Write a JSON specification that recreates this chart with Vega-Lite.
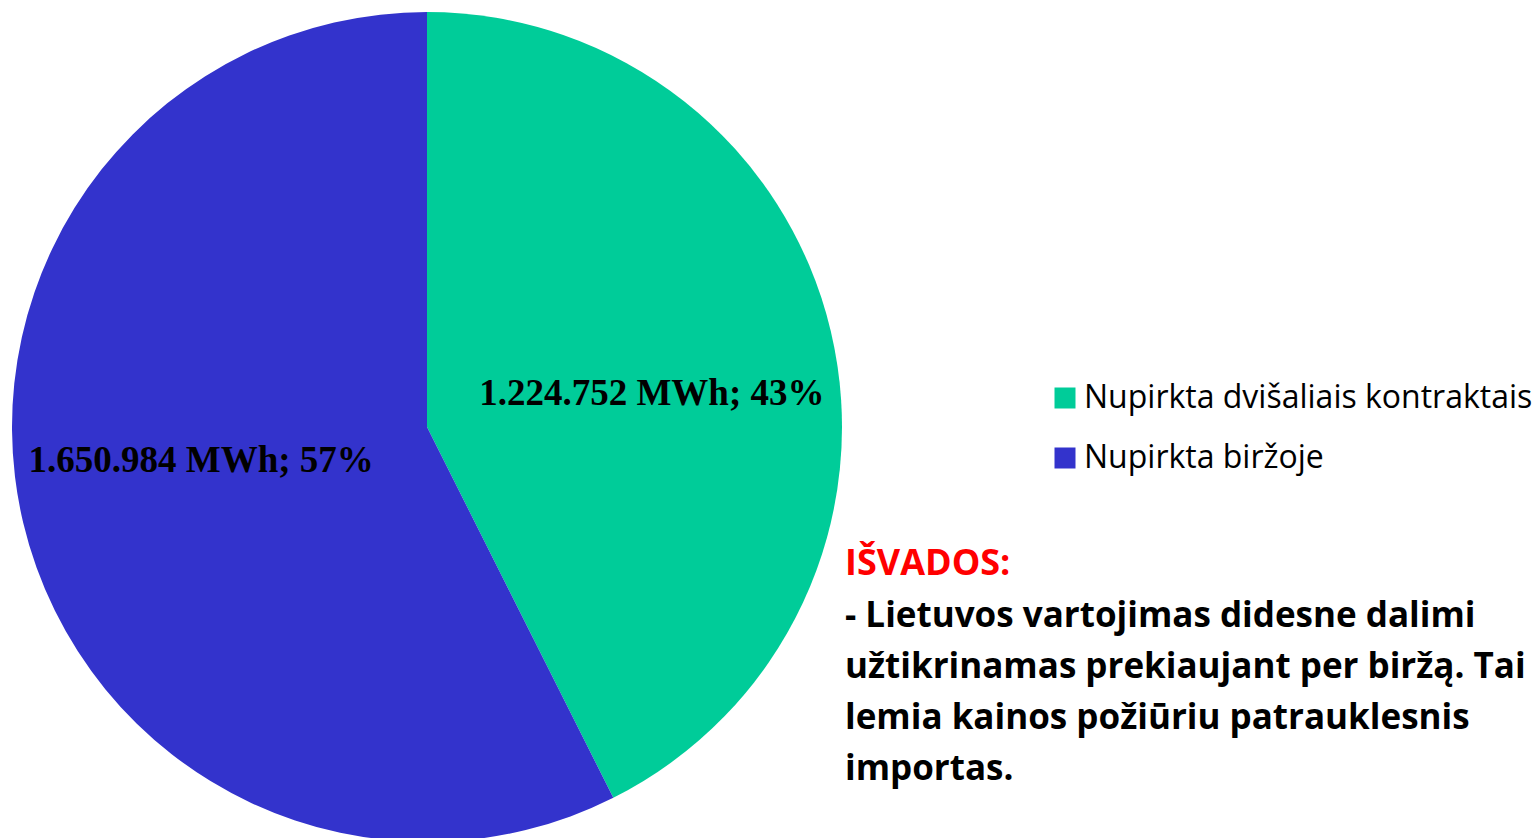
{
  "$schema": "https://vega.github.io/schema/vega-lite/v6.json",
  "width": 854,
  "height": 854,
  "autosize": "none",
  "padding": {"left": 0, "top": 0, "right": 685, "bottom": 0},
  "background": "white",
  "config": {"view": {"stroke": null}},
  "data": {
    "values": [
      {"category": "Nupirkta dvišaliais kontraktais", "value": 1224752, "label": "1.224.752 MWh; 43%", "order": 1},
      {"category": "Nupirkta biržoje", "value": 1650984, "label": "1.650.984 MWh; 57%", "order": 2}
    ]
  },
  "title": {
    "text": "IŠVADOS:",
    "subtitle": [
      "- Lietuvos vartojimas didesne dalimi",
      "užtikrinamas prekiaujant per biržą. Tai",
      "lemia kainos požiūriu patrauklesnis",
      "importas."
    ],
    "orient": "top",
    "anchor": "start",
    "frame": "group",
    "dx": 845,
    "dy": 792,
    "font": "Open Sans",
    "fontSize": 36,
    "fontWeight": "bold",
    "color": "#FF0000",
    "subtitleFont": "Open Sans",
    "subtitleFontSize": 35,
    "subtitleFontWeight": "bold",
    "subtitleColor": "#000000",
    "subtitleLineHeight": 51,
    "subtitlePadding": 16
  },
  "encoding": {
    "theta": {"field": "value", "type": "quantitative", "stack": true},
    "order": {"field": "order", "type": "quantitative"}
  },
  "layer": [
    {
      "mark": {"type": "arc", "radius": 415},
      "encoding": {
        "color": {
          "field": "category",
          "type": "nominal",
          "sort": ["Nupirkta dvišaliais kontraktais", "Nupirkta biržoje"],
          "scale": {
            "domain": ["Nupirkta dvišaliais kontraktais", "Nupirkta biržoje"],
            "range": ["#00CC99", "#3333CC"]
          },
          "legend": {
            "orient": "none",
            "legendX": 1049,
            "legendY": 382,
            "title": null,
            "symbolType": "square",
            "symbolSize": 441,
            "symbolStrokeWidth": 0,
            "labelFont": "Open Sans",
            "labelFontSize": 32,
            "labelColor": "#000000",
            "labelOffset": 3,
            "labelLimit": 700,
            "rowPadding": 28
          }
        }
      }
    },
    {
      "mark": {"type": "text", "radius": 228, "font": "Liberation Serif", "fontWeight": "bold", "fontSize": 37, "color": "#000000", "dx": 3, "dy": 20},
      "encoding": {
        "text": {"condition": {"test": "datum.order === 1", "field": "label"}, "value": ""}
      }
    },
    {
      "mark": {"type": "text", "radius": 228, "font": "Liberation Serif", "fontWeight": "bold", "fontSize": 37, "color": "#000000", "dx": -4, "dy": -19},
      "encoding": {
        "text": {"condition": {"test": "datum.order === 2", "field": "label"}, "value": ""}
      }
    }
  ]
}
